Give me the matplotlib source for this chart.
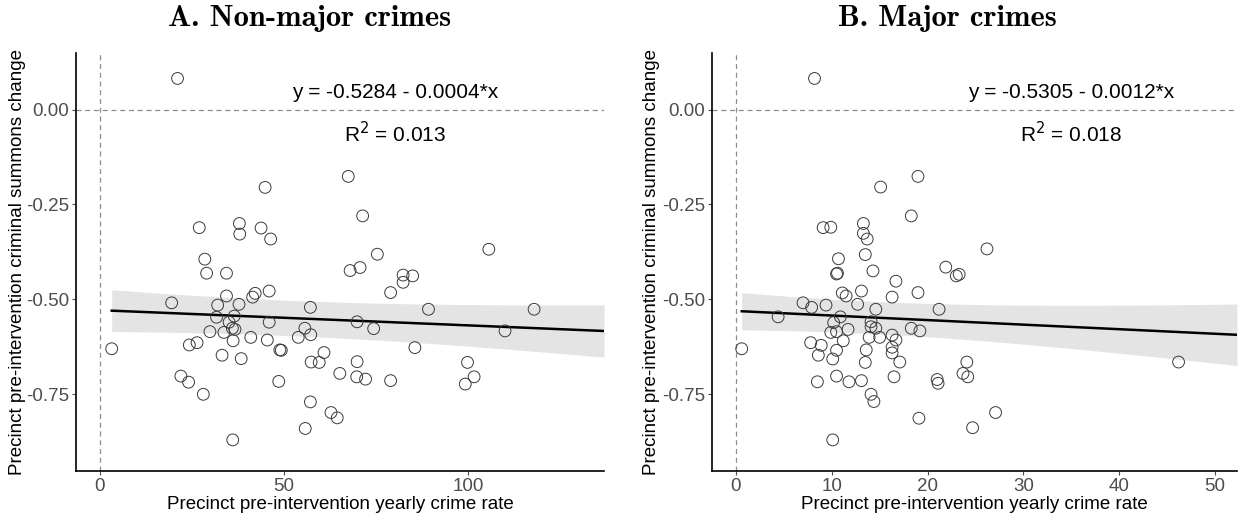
import numpy as np
import matplotlib
matplotlib.use("Agg")
from matplotlib import pyplot as plt

plt.rcParams['font.family'] = ['Liberation Sans', 'DejaVu Sans']

# Panel A : non-major crimes (precinct yearly crime rate, summons change)
rate_a = [21.1, 44.9, 27.0, 37.9, 38.0, 43.8, 46.4, 28.5, 29.0, 34.4,
          67.5, 68.0, 71.4, 75.4, 105.7, 70.7, 82.4, 85.0, 82.4, 79.0,
          89.3, 118.0, 69.9, 74.4, 110.1, 85.6, 99.9, 69.9, 65.2, 69.8,
          72.2, 79.0, 101.7, 99.3, 46.0, 42.2, 41.5, 34.4, 19.5, 32.0,
          37.8, 57.2, 31.7, 36.5, 35.1, 46.0, 36.0, 36.7, 29.9, 33.7,
          55.7, 57.3, 53.9, 41.0, 45.5, 36.2, 3.2, 24.3, 26.4, 48.9,
          49.3, 33.2, 38.4, 60.9, 57.4, 59.6, 22.0, 24.1, 48.6, 28.1,
          57.2, 62.8, 64.5, 55.8, 36.1]
change_a = [0.082, -0.205, -0.311, -0.300, -0.328, -0.312, -0.341, -0.394, -0.431, -0.431,
            -0.176, -0.424, -0.280, -0.381, -0.368, -0.416, -0.436, -0.438, -0.455, -0.482,
            -0.526, -0.526, -0.559, -0.577, -0.583, -0.627, -0.666, -0.664, -0.695, -0.704,
            -0.710, -0.714, -0.704, -0.723, -0.478, -0.484, -0.494, -0.491, -0.509, -0.515,
            -0.513, -0.521, -0.547, -0.544, -0.560, -0.560, -0.576, -0.579, -0.585, -0.587,
            -0.576, -0.593, -0.600, -0.600, -0.607, -0.609, -0.630, -0.620, -0.614, -0.633,
            -0.634, -0.647, -0.656, -0.640, -0.665, -0.666, -0.702, -0.718, -0.716, -0.750,
            -0.770, -0.798, -0.812, -0.840, -0.870]

# Panel B : major crimes
rate_b = [8.2, 19.0, 15.1, 18.3, 9.1, 9.9, 13.3, 13.3, 13.7, 13.5,
          10.7, 10.6, 10.5, 14.3, 16.7, 21.9, 13.1, 19.0, 11.1, 11.5,
          16.3, 7.0, 7.9, 9.4, 12.7, 14.6, 21.2, 4.4, 10.9, 10.2,
          14.1, 14.1, 14.6, 11.7, 18.3, 19.2, 9.9, 10.5, 16.3, 13.9,
          15.0, 11.2, 16.7, 0.6, 7.8, 8.9, 16.3, 16.3, 13.6, 10.5,
          8.6, 10.1, 13.5, 17.1, 10.5, 8.5, 11.8, 13.1, 16.5, 21.0,
          21.1, 14.1, 14.4, 19.1, 10.1, 26.2, 23.0, 23.3, 46.2, 24.1,
          23.7, 24.2, 27.1, 24.7]
change_b = [0.082, -0.176, -0.204, -0.280, -0.311, -0.310, -0.300, -0.326, -0.341, -0.382,
            -0.393, -0.431, -0.433, -0.425, -0.452, -0.415, -0.478, -0.482, -0.483, -0.491,
            -0.494, -0.509, -0.521, -0.515, -0.513, -0.526, -0.526, -0.546, -0.546, -0.561,
            -0.559, -0.572, -0.576, -0.579, -0.576, -0.583, -0.587, -0.585, -0.594, -0.600,
            -0.600, -0.609, -0.607, -0.630, -0.614, -0.621, -0.626, -0.641, -0.633, -0.634,
            -0.647, -0.657, -0.666, -0.665, -0.702, -0.717, -0.717, -0.714, -0.704, -0.711,
            -0.721, -0.750, -0.769, -0.813, -0.870, -0.367, -0.438, -0.434, -0.665, -0.665,
            -0.695, -0.704, -0.798, -0.838]

# regression coefficients printed on the chart
intercepts = [-0.5284, -0.5305]
slopes = [-0.0004, -0.0012]
r2_values = ["0.013", "0.018"]
titles = ["A. Non-major crimes", "B. Major crimes"]

# demi-largeur de la bande de confiance (gauche / droite)
band_left = [0.055, 0.049]
band_right = [0.069, 0.081]
band_centre = [52.0, 14.0]

xlims = [(-6.5, 137), (-2.5, 52.3)]
xticks = [[0, 50, 100], [0, 10, 20, 30, 40, 50]]
label_x = [80.2, 35.0]

fig = plt.figure(figsize=(12.41, 5.21), dpi=100)
ax_a = fig.add_axes([76 / 1241, 50 / 521, 528 / 1241, 418 / 521])
ax_b = fig.add_axes([712 / 1241, 50 / 521, 525 / 1241, 418 / 521])

donnees = [(rate_a, change_a), (rate_b, change_b)]
for i, ax in enumerate([ax_a, ax_b]):
    x = np.array(donnees[i][0])
    y = np.array(donnees[i][1])

    # lignes de reference
    ax.axhline(0, color="#8c8c8c", lw=0.9, ls=(0, (4, 3)), zorder=1)
    ax.axvline(0, color="#8c8c8c", lw=0.9, ls=(0, (4, 3)), zorder=1)

    # droite de regression + bande de confiance
    x0 = x.min()
    x1 = xlims[i][1]
    c = band_centre[i]
    k = (band_right[i] ** 2 - band_left[i] ** 2) / ((x1 - c) ** 2 - (x0 - c) ** 2)
    m2 = band_left[i] ** 2 - k * (x0 - c) ** 2
    xs = np.linspace(x0, x1, 200)
    fit = intercepts[i] + slopes[i] * xs
    half = np.sqrt(m2 + k * (xs - c) ** 2)
    ax.fill_between(xs, fit - half, fit + half, color="#e4e4e4", lw=0, zorder=2)
    ax.plot(xs, fit, color="black", lw=1.8, zorder=3)

    ax.scatter(x, y, s=72, facecolors="none", edgecolors="#3a3a3a", linewidths=0.7, zorder=4)

    ax.text(label_x[i], 0.046, "y = %.4f - %.4f*x" % (intercepts[i], -slopes[i]),
            ha="center", va="center", fontsize=15)
    ax.text(label_x[i], -0.062, "R$^2$ = " + r2_values[i],
            ha="center", va="center", fontsize=15)

    ax.set_xlim(xlims[i])
    ax.set_ylim(-0.952, 0.149)
    ax.set_xticks(xticks[i])
    ax.set_yticks([0, -0.25, -0.5, -0.75])
    ax.set_yticklabels(["0.00", "-0.25", "-0.50", "-0.75"])
    for side in ["top", "right"]:
        ax.spines[side].set_visible(False)
    for side in ["left", "bottom"]:
        ax.spines[side].set_linewidth(1.2)
    ax.tick_params(colors="#4d4d4d", labelsize=13.5, length=3, width=0.8, pad=2)
    ax.set_xlabel("Precinct pre-intervention yearly crime rate", fontsize=13.5, labelpad=1)

# titres des axes y
fig.text(18 / 1241, 0.497, "Precinct pre-intervention criminal summons change",
         rotation=90, ha="center", va="center", fontsize=13.5)
fig.text(652 / 1241, 0.497, "Precinct pre-intervention criminal summons change",
         rotation=90, ha="center", va="center", fontsize=13.5)

# titres en police type Computer Modern gras
fig.text(310 / 1241, 1 - 19 / 521, titles[0], ha="center", va="center",
         fontsize=22, family="cmb10")
fig.text(947 / 1241, 1 - 19 / 521, titles[1], ha="center", va="center",
         fontsize=22, family="cmb10")

plt.savefig("out.png", dpi=100)
